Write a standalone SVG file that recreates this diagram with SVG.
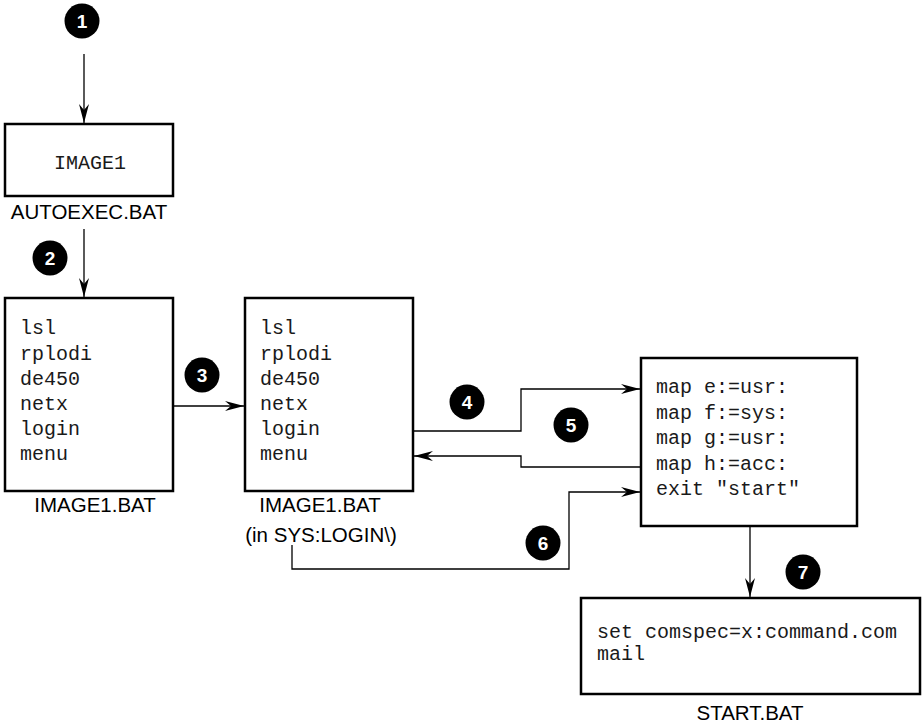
<svg xmlns="http://www.w3.org/2000/svg" width="924" height="723" viewBox="0 0 924 723">
<style>
.box{fill:#fff;stroke:#000;stroke-width:2.5}
.mono{font-family:"Liberation Mono","Courier New",monospace;font-size:20px;fill:#1a1a1a}
.lbl{font-family:"Liberation Sans",Arial,sans-serif;font-size:20.5px;fill:#000;text-anchor:middle}
.num circle{fill:#000}
.num text{font-family:"Liberation Sans",Arial,sans-serif;font-size:19px;font-weight:bold;fill:#fff;text-anchor:middle}
.con{fill:none;stroke:#000;stroke-width:1.3;marker-end:url(#ah)}
</style>
<defs>
<marker id="ah" markerWidth="20" markerHeight="12" viewBox="-19 -6 20 12" refX="0" refY="0" orient="auto" markerUnits="userSpaceOnUse">
<path d="M0,0 L-19,-5 L-13,0 L-19,5 Z" fill="#000"/>
</marker>
</defs>
<rect width="924" height="723" fill="#fff"/>
<g id="connectors">
<path class="con" d="M84,54 V123"/>
<path class="con" d="M84,229 V297"/>
<path class="con" d="M173,406 H244"/>
<path class="con" d="M413,431 H521 V389 H640"/>
<path class="con" d="M640,467 H521 V456 H414"/>
<path class="con" d="M292,545 V569 H569 V492 H640"/>
<path class="con" d="M750,526 V597"/>
</g>
<g id="autoexec">
<rect class="box" x="5" y="124" width="168" height="72"/>
<text class="mono" x="90" y="169" text-anchor="middle">IMAGE1</text>
<text class="lbl" x="89" y="219">AUTOEXEC.BAT</text>
</g>
<g id="image1bat">
<rect class="box" x="5" y="298" width="168" height="193"/>
<text class="mono"><tspan x="20" y="334">lsl</tspan><tspan x="20" y="359.5">rplodi</tspan><tspan x="20" y="385">de450</tspan><tspan x="20" y="410">netx</tspan><tspan x="20" y="435">login</tspan><tspan x="20" y="460">menu</tspan></text>
<text class="lbl" x="95" y="512">IMAGE1.BAT</text>
</g>
<g id="image1bat-login">
<rect class="box" x="245" y="298" width="168" height="193"/>
<text class="mono"><tspan x="260" y="334">lsl</tspan><tspan x="260" y="359.5">rplodi</tspan><tspan x="260" y="385">de450</tspan><tspan x="260" y="410">netx</tspan><tspan x="260" y="435">login</tspan><tspan x="260" y="460">menu</tspan></text>
<text class="lbl" x="320" y="512">IMAGE1.BAT</text>
<text class="lbl" x="321" y="542">(in SYS:LOGIN\)</text>
</g>
<g id="login-script">
<rect class="box" x="641" y="358" width="216" height="168"/>
<text class="mono"><tspan x="656" y="393">map e:=usr:</tspan><tspan x="656" y="418.5">map f:=sys:</tspan><tspan x="656" y="444">map g:=usr:</tspan><tspan x="656" y="469.5">map h:=acc:</tspan><tspan x="656" y="495">exit "start"</tspan></text>
</g>
<g id="startbat">
<rect class="box" x="581" y="598" width="339" height="96"/>
<text class="mono"><tspan x="597" y="638">set comspec=x:command.com</tspan><tspan x="597" y="660">mail</tspan></text>
<text class="lbl" x="750" y="720">START.BAT</text>
</g>
<g id="n1" class="num"><circle cx="82" cy="21" r="17.5"/><text x="82" y="27.8">1</text></g>
<g id="n2" class="num"><circle cx="50" cy="258" r="17.5"/><text x="50" y="264.8">2</text></g>
<g id="n3" class="num"><circle cx="202" cy="375" r="17.5"/><text x="202" y="381.8">3</text></g>
<g id="n4" class="num"><circle cx="467" cy="402" r="17.5"/><text x="467" y="408.8">4</text></g>
<g id="n5" class="num"><circle cx="571" cy="425" r="17.5"/><text x="571" y="431.8">5</text></g>
<g id="n6" class="num"><circle cx="543" cy="543" r="17.5"/><text x="543" y="549.8">6</text></g>
<g id="n7" class="num"><circle cx="803" cy="572" r="17.5"/><text x="803" y="578.8">7</text></g>
</svg>
